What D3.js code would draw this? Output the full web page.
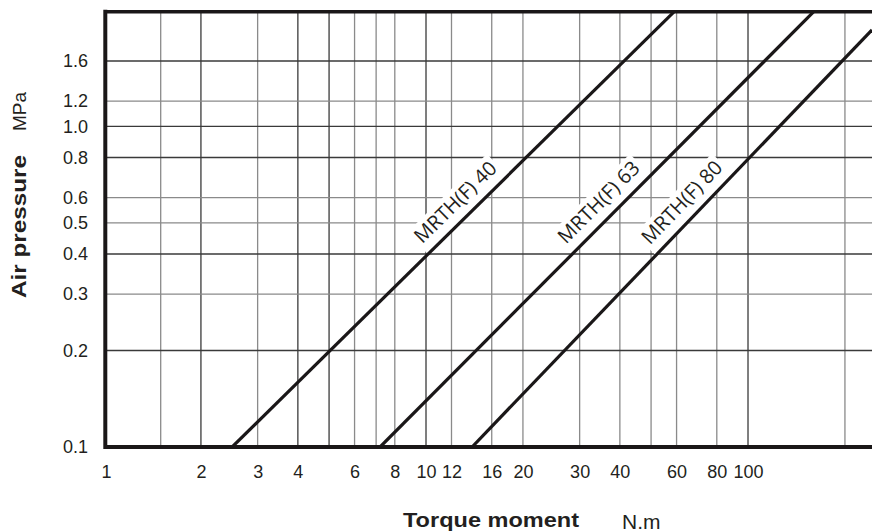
<!DOCTYPE html>
<html><head><meta charset="utf-8">
<script src="https://cdn.jsdelivr.net/npm/d3@7"></script>
<style>body{margin:0;background:#fff}svg{display:block}</style>
</head><body><svg id="c" width="872" height="532"></svg>
<script>
// ---- data ----
const xTickValues = [1, 2, 3, 4, 6, 8, 10, 12, 16, 20, 30, 40, 60, 80, 100];
const xGridValues = [1.5, 2, 3, 4, 5, 6, 7, 8, 10, 12, 16, 20, 30, 40, 50, 60, 80, 100, 200];
const xGridDark = [2, 4, 5, 10, 100];
const yTickValues = [0.1, 0.2, 0.3, 0.4, 0.5, 0.6, 0.8, 1.0, 1.2, 1.6];
const yGridValues = [0.2, 0.3, 0.4, 0.5, 0.6, 0.8, 1.0, 1.2, 1.6];
const yGridDark = [0.2, 0.4, 0.8, 1.0, 1.6];
const seriesNames = ["MRTH(F) 40", "MRTH(F) 63", "MRTH(F) 80"];
const torque40 = [2.5, 59];    const pressure40 = [0.1, 2.28];
const torque63 = [7.2, 160];   const pressure63 = [0.1, 2.28];
const torque80 = [13.9, 242.7]; const pressure80 = [0.1, 2.0];
const labelPressure = [0.53, 0.53, 0.53];
const xDomain = [1, 242.7];
const yDomain = [0.1, 2.28];
const xTitle = "Torque moment", xUnit = "N.m";
const yTitle = "Air pressure", yUnit = "MPa";

// ---- drawing ----
const svg = d3.select("#c");
const L = 104, R = 872, T = 11.7, B = 447;
const x = d3.scaleLog().domain(xDomain).range([L, R]);
const y = d3.scaleLog().domain(yDomain).range([B, T]);
const ink = "#231f20";

const series = [
  {name: seriesNames[0], t: torque40, p: pressure40, lp: labelPressure[0]},
  {name: seriesNames[1], t: torque63, p: pressure63, lp: labelPressure[1]},
  {name: seriesNames[2], t: torque80, p: pressure80, lp: labelPressure[2]}
];

svg.append("defs").append("clipPath").attr("id", "plot")
  .append("rect").attr("x", L).attr("y", T).attr("width", R - L).attr("height", B - T);

// grid
const grid = svg.append("g");
grid.selectAll(".vx").data(xGridValues).join("line")
  .attr("x1", d => x(d)).attr("x2", d => x(d)).attr("y1", T).attr("y2", B)
  .attr("stroke", d => xGridDark.includes(d) ? "#3a3a3a" : "#8a8a8a")
  .attr("stroke-width", 1.3);
grid.selectAll(".hy").data(yGridValues).join("line")
  .attr("y1", d => y(d)).attr("y2", d => y(d)).attr("x1", L).attr("x2", R)
  .attr("stroke", d => yGridDark.includes(d) ? "#3a3a3a" : "#8a8a8a")
  .attr("stroke-width", 1.3);

// labels knockout + text
const labelG = svg.append("g");
const lineG = svg.append("g").attr("clip-path", "url(#plot)");
const line = d3.line().x(d => x(d[0])).y(d => y(d[1]));

series.forEach(s => {
  const pts = s.t.map((t, i) => [t, s.p[i]]);
  lineG.append("path").datum(pts).attr("d", line)
    .attr("fill", "none").attr("stroke", "#1a1718").attr("stroke-width", 3.2);

  const p0 = [x(pts[0][0]), y(pts[0][1])], p1 = [x(pts[1][0]), y(pts[1][1])];
  const deg = Math.atan2(p1[1] - p0[1], p1[0] - p0[0]) * 180 / Math.PI;
  const yl = y(s.lp);
  const f = (yl - p0[1]) / (p1[1] - p0[1]);
  const xl = p0[0] + f * (p1[0] - p0[0]);
  const g = labelG.append("g").attr("transform", `translate(${xl},${yl}) rotate(${deg})`);
  const bg = g.append("rect").attr("fill", "#fff");
  const tx = g.append("text").attr("x", 0).attr("y", -11)
    .attr("text-anchor", "middle")
    .attr("font-family", "Open Sans, Noto Sans, sans-serif")
    .attr("font-size", 20).attr("fill", ink).text(s.name);
  const bb = tx.node().getBBox();
  bg.attr("x", bb.x - 3).attr("y", bb.y + 2).attr("width", bb.width + 6).attr("height", -bb.y - 2);
});
labelG.raise(); lineG.raise();
labelG.selectAll("text").raise();

// frame
const frame = svg.append("g").attr("stroke", "#1a1718");
frame.append("line").attr("x1", L + 1.3).attr("x2", L + 1.3).attr("y1", T - 2).attr("y2", B + 2).attr("stroke-width", 4);
frame.append("line").attr("x1", L).attr("x2", R).attr("y1", T).attr("y2", T).attr("stroke-width", 3.5);
frame.append("line").attr("x1", L).attr("x2", R).attr("y1", B).attr("y2", B).attr("stroke-width", 4);

// axes (labels only)
const xAxis = svg.append("g").attr("transform", `translate(0,${B})`)
  .call(d3.axisBottom(x).tickValues(xTickValues).tickSize(0).tickPadding(18).tickFormat(d3.format("d")));
const yAxis = svg.append("g").attr("transform", `translate(${L},0)`)
  .call(d3.axisLeft(y).tickValues(yTickValues).tickSize(0).tickPadding(16).tickFormat(d3.format(".1f")));
[xAxis, yAxis].forEach(a => {
  a.select(".domain").remove();
  a.selectAll("text").attr("font-family", "'Liberation Sans', Arial, sans-serif")
    .attr("font-size", 18).attr("fill", ink);
});
xAxis.selectAll(".tick").filter(d => d === 1).select("text").attr("dx", 2);

// titles
svg.append("text").attr("x", 403).attr("y", 527)
  .attr("font-family", "'Liberation Sans', Arial, sans-serif").attr("font-weight", "bold")
  .attr("font-size", 21).attr("textLength", 176).attr("lengthAdjust", "spacingAndGlyphs")
  .attr("fill", ink).text(xTitle);
svg.append("text").attr("x", 622).attr("y", 528.5)
  .attr("font-family", "'Liberation Sans', Arial, sans-serif")
  .attr("font-size", 21).attr("fill", ink).text(xUnit);
svg.append("text").attr("transform", "translate(26,298) rotate(-90)")
  .attr("font-family", "'Liberation Sans', Arial, sans-serif").attr("font-weight", "bold")
  .attr("font-size", 20).attr("textLength", 143).attr("lengthAdjust", "spacingAndGlyphs")
  .attr("fill", ink).text(yTitle);
svg.append("text").attr("transform", "translate(26,131) rotate(-90)")
  .attr("font-family", "'Liberation Sans', Arial, sans-serif")
  .attr("font-size", 19).attr("textLength", 39).attr("lengthAdjust", "spacingAndGlyphs")
  .attr("fill", ink).text(yUnit);
</script>
</body></html>
